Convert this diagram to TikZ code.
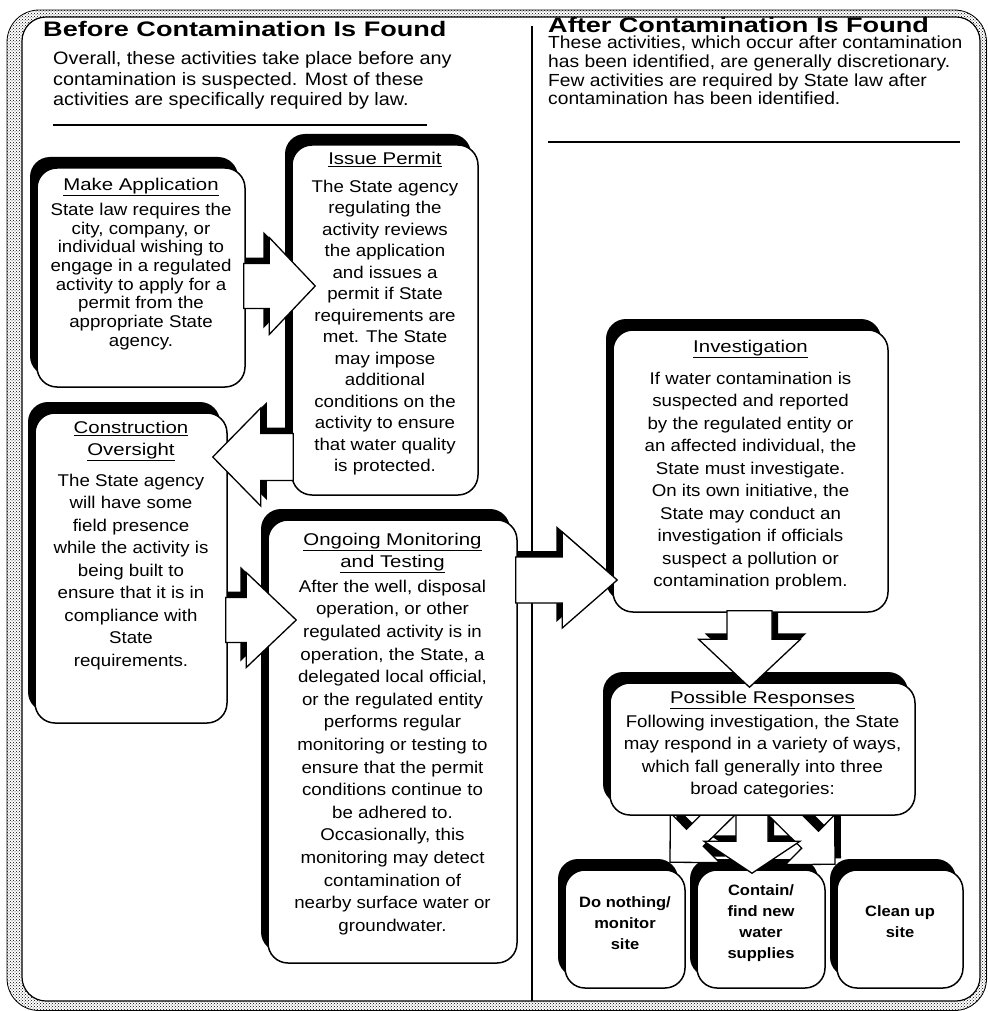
\documentclass[tikz,border=0pt]{standalone}
\usepackage{fontspec}
\setmainfont{Liberation Sans}[FakeStretch=1.1]
\newfontfamily\headfont{Liberation Sans}[FakeStretch=1.29]
\newfontfamily\titlefont{Liberation Sans}[FakeStretch=1.2]
\usetikzlibrary{calc,positioning,shadows,patterns,backgrounds}

% outline of a block arrow; (ah) is the middle of the back of the head
\newcommand\arrowoutline[4]{($(#1)!#3!90:(#2)$) -- ($(ah)!#3!90:(#2)$) -- ($(ah)!#4!90:(#2)$) -- (#2) -- ($(ah)!#4!-90:(#2)$) -- ($(ah)!#3!-90:(#2)$) -- ($(#1)!#3!-90:(#2)$) -- cycle}

% #1 shadow shift, #2 from, #3 to, #4 half shaft, #5 half head, #6 head length
\newcommand\blockarrow[6]{%
  \coordinate (ah) at ($(#3)!#6!(#2)$);
  \begin{pgfonlayer}{background}
    \fill[arrowshade, transform canvas={shift={#1}}] \arrowoutline{#2}{#3}{#4}{#5};
  \end{pgfonlayer}
  \filldraw[arrowbody] \arrowoutline{#2}{#3}{#4}{#5};
}

\tikzset{
  box/.style={draw, line width=1.5pt, fill=white, rounded corners=20pt, inner sep=0pt,
    drop shadow={shadow xshift=-7pt, shadow yshift=11pt, fill=black, opacity=1}},
  arrowbody/.style={draw, fill=white, line width=1.3pt, line join=miter},
  arrowshade/.style={fill=black},
  heading/.style={font=\headfont\bfseries\fontsize{21}{25}\selectfont, anchor=base west, inner sep=0pt},
  intro/.style={align=left, font=\fontsize{18}{20.5}\selectfont, anchor=base west, inner sep=0pt},
  boxtitle/.style={align=center, font=\titlefont\fontsize{17}{22}\selectfont, anchor=base, inner sep=0pt},
  boxtext/.style={align=center, font=\fontsize{17}{22.5}\selectfont, anchor=base, inner sep=0pt},
  choice/.style={align=center, font=\bfseries\fontsize{15}{21}\selectfont, anchor=base, inner sep=0pt},
  rule/.style={line width=1.6pt}
}

\begin{document}
\begin{tikzpicture}[x=1pt, y=-1pt]
  \useasboundingbox (0,0) rectangle (987,1011);

  % frame and divider
  \begin{pgfonlayer}{background}
    \fill[pattern=crosshatch dots, even odd rule]
      (7,10) [rounded corners=32pt] rectangle (987,1011)
      (22,17) [rounded corners=24pt] rectangle (980,1001);
    \draw[line width=0.8pt, rounded corners=32pt] (7,10) rectangle (986.5,1010.5);
    \draw[line width=1.2pt, rounded corners=24pt] (22,17) rectangle (980,1001);
    \draw[line width=1.2pt] (532,26) -- (532,1001);
  \end{pgfonlayer}

  % headers (multi-line nodes sit on the baseline of their last line)
  \node[heading] (befhead) at (43,37) {Before Contamination Is Found};
  \node[intro] (befintro) at (53,106) {Overall, these activities take place before any\\contamination is suspected.  Most of these\\activities are specifically required by law.};
  \draw[rule] (53,125) -- (427,125);

  \node[heading] (afthead) at (548,32.5) {After Contamination Is Found};
  \node[intro, font=\fontsize{17.5}{18.7}\selectfont] (aftintro) at (548,105) {These activities, which occur after contamination\\has been identified, are generally discretionary.\\Few  activities  are required by State law after\\contamination has been identified.};
  \draw[rule] (548,142) -- (960,142);

  % boxes
  \node[box, minimum width=208pt, minimum height=219pt] (make) at (141,277.5) {};
  \node[boxtitle] (maketitle) at ($(make.north)+(0,23)$) {\underline{Make Application}};
  \node[boxtext, font=\fontsize{17}{18.7}\selectfont] (maketext) at ($(make.north)+(0,179)$)
    {State law requires the\\city, company, or\\individual wishing to\\engage in a regulated\\activity to apply for a\\permit from the\\appropriate State\\agency.};

  \node[box, minimum width=186pt, minimum height=350pt] (issue) at (385,320) {};
  \node[boxtitle] (issuetitle) at ($(issue.north)+(0,20)$) {\underline{Issue Permit}};
  \node[boxtext, font=\fontsize{17}{21.5}\selectfont] (issuetext) at ($(issue.north)+(0,327.5)$)
    {The State agency\\regulating the\\activity reviews\\the application\\and issues a\\permit if State\\requirements are\\met.  The State\\may impose\\additional\\conditions on the\\activity to ensure\\that water quality\\is protected.};

  \node[box, minimum width=192pt, minimum height=310pt] (constr) at (131,568) {};
  \node[boxtitle] (constrtitle) at ($(constr.north)+(0,43)$) {\underline{Construction}\\\underline{Oversight}};
  \node[boxtext] (constrtext) at ($(constr.north)+(0,254)$)
    {The State agency\\will have some\\field presence\\while the activity is\\being built to\\ensure that it is in\\compliance with\\State\\requirements.};

  \node[box, minimum width=249pt, minimum height=443pt] (ongoing) at (392.5,741.5) {};
  \node[boxtitle] (ongoingtitle) at ($(ongoing.north)+(0,48)$) {\underline{Ongoing Monitoring}\\\underline{and Testing}};
  \node[boxtext, font=\fontsize{17}{22.6}\selectfont] (ongoingtext) at ($(ongoing.north)+(0,412)$)
    {After the well, disposal\\operation, or other\\regulated activity is in\\operation, the State, a\\delegated local official,\\or the regulated entity\\performs regular\\monitoring or testing to\\ensure that the permit\\conditions continue to\\be adhered to.\\Occasionally, this\\monitoring may detect\\contamination of\\nearby surface water or\\groundwater.};

  \node[box, minimum width=275pt, minimum height=282pt] (invest) at (750.5,471) {};
  \node[boxtitle] (investtitle) at ($(invest.north)+(0,23)$) {\underline{Investigation}};
  \node[boxtext] (investtext) at ($(invest.north)+(0,257.5)$)
    {If water contamination is\\suspected and reported\\by the regulated entity or\\an affected individual, the\\State must investigate.\\On its own initiative, the\\State may conduct an\\investigation if officials\\suspect a pollution or\\contamination problem.};

  \node[box, minimum width=120pt, minimum height=118pt] (nothing) at (625,929) {};
  \node[choice] (nothingtext) at ($(nothing.north)+(0,80)$) {Do nothing/\\monitor\\site};
  \node[box, minimum width=128pt, minimum height=118pt] (contain) at (761,929) {};
  \node[choice] (containtext) at ($(contain.north)+(0,89)$) {Contain/\\find new\\water\\supplies};
  \node[box, minimum width=126pt, minimum height=118pt] (cleanup) at (900,929) {};
  \node[choice] (cleanuptext) at ($(cleanup.north)+(0,68)$) {Clean up\\site};

  % arrows to the three responses, under the box they leave
  \coordinate (lfrom) at (728,805);
  \coordinate (lto) at ($(nothing.north -| 670,0)+(0,-7)$);
  \blockarrow{(6,-6)}{lfrom}{lto}{12pt}{35pt}{35pt}
  \coordinate (rfrom) at (775,805);
  \coordinate (rto) at ($(cleanup.north -| 835,0)+(0,-5)$);
  \blockarrow{(6,-6)}{rfrom}{rto}{12pt}{35pt}{35pt}
  \coordinate (mfrom) at (752,805);
  \coordinate (mto) at ($(contain.north -| 752,0)+(0,4)$);
  \blockarrow{(6,-6)}{mfrom}{mto}{16pt}{48pt}{32pt}

  \node[box, minimum width=305pt, minimum height=132pt] (resp) at (762.5,749) {};
  \node[boxtitle] (resptitle) at ($(resp.north)+(0,21)$) {\underline{Possible Responses}};
  \node[boxtext] (resptext) at ($(resp.north)+(0,112.5)$)
    {Following investigation, the State\\may respond in a variety of ways,\\which fall generally into three\\broad categories:};

  % arrows between the steps
  \coordinate (a1s) at ($(make.east |- 0,286)+(-2,0)$);
  \coordinate (a1e) at ($(issue.west |- 0,286)+(24,0)$);
  \blockarrow{(-6,-6)}{a1s}{a1e}{22.5pt}{48.5pt}{46pt}
  \coordinate (a2s) at ($(issue.west |- 0,457)+(2,0)$);
  \coordinate (a2e) at ($(constr.east |- 0,457)+(-15,0)$);
  \blockarrow{(6,-6)}{a2s}{a2e}{23.5pt}{49pt}{48pt}
  \coordinate (a3s) at ($(constr.east |- 0,620)+(-2,0)$);
  \coordinate (a3e) at ($(ongoing.west |- 0,620)+(29,0)$);
  \blockarrow{(-6,-6)}{a3s}{a3e}{22.5pt}{47.5pt}{50pt}
  \coordinate (a4s) at ($(ongoing.east |- 0,580)+(-2,0)$);
  \coordinate (a4e) at ($(invest.west |- 0,580)+(5,0)$);
  \blockarrow{(-6,-6)}{a4s}{a4e}{23pt}{48pt}{55pt}
  \coordinate (a5s) at ($(invest.south -| 749.5,0)+(0,-2)$);
  \coordinate (a5e) at ($(resp.north -| 749.5,0)+(0,5)$);
  \blockarrow{(6,-6)}{a5s}{a5e}{22.5pt}{51pt}{48pt}
\end{tikzpicture}
\end{document}
